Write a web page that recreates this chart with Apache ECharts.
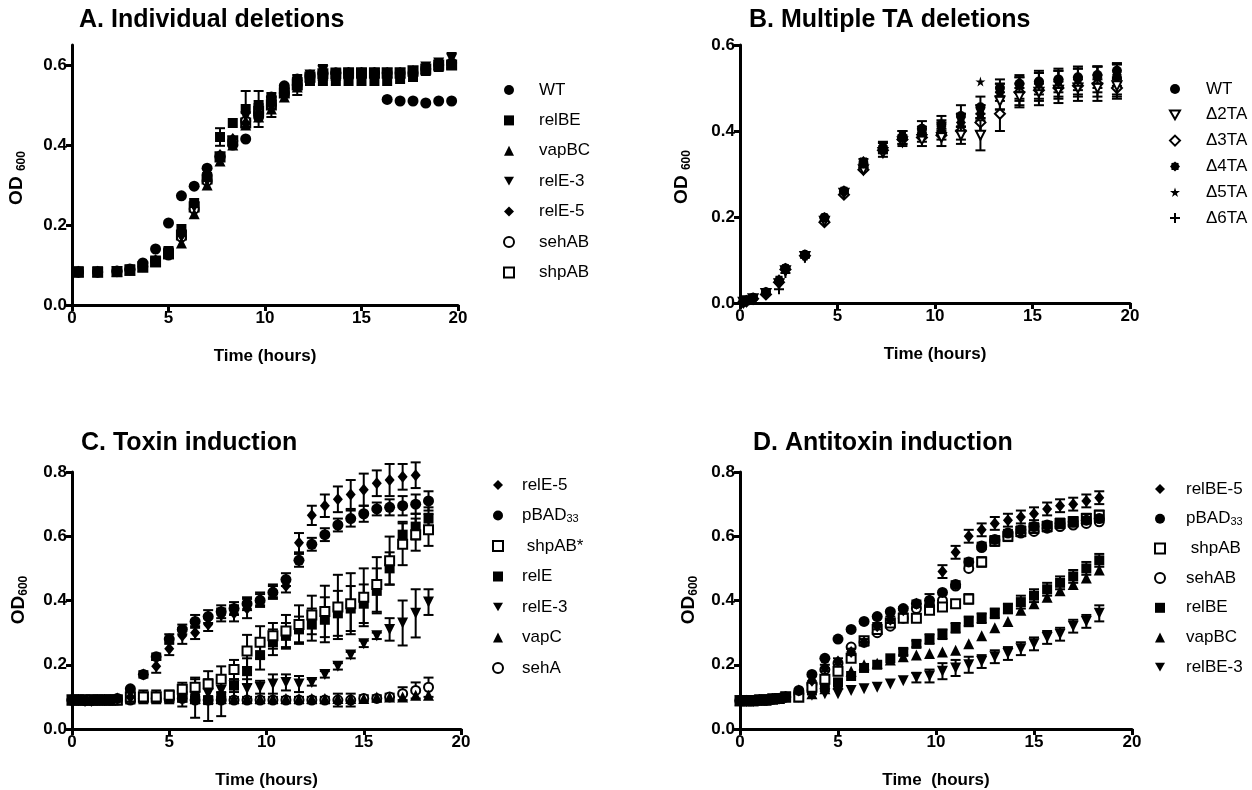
<!DOCTYPE html>
<html>
<head>
<meta charset="utf-8">
<script src="https://cdn.jsdelivr.net/npm/echarts@6.0.0/dist/echarts.min.js"></script>
<style>
  html, body { margin: 0; background: #fff; }
  #main { width: 1252px; height: 790px; }
</style>
</head>
<body>
<div id="main"></div>
<script>
(function(){
  'use strict';

  // ---- data -------------------------------------------------------
  // A. Individual deletions
  var tA = [0.33,1.33,2.33,3.0,3.67,4.33,5.0,5.67,6.33,7.0,7.67,8.33,9.0,9.67,10.33,11.0,11.67,12.33,13.0,13.67,14.33,15.0,15.67,16.33,17.0,17.67,18.33,19.0,19.67];
  var wtA    = [0.083,0.083,0.085,0.09,0.105,0.14,0.205,0.273,0.297,0.342,0.372,0.40,0.415,0.47,0.52,0.548,0.565,0.575,0.578,0.58,0.58,0.58,0.58,0.514,0.51,0.51,0.505,0.51,0.51];
  var relBEA = [0.083,0.083,0.084,0.087,0.095,0.11,0.135,0.19,0.255,0.32,0.42,0.455,0.49,0.50,0.51,0.535,0.55,0.56,0.56,0.56,0.56,0.56,0.56,0.56,0.565,0.57,0.585,0.595,0.60];
  var vapBCA = [0.083,0.083,0.084,0.087,0.095,0.108,0.128,0.155,0.228,0.30,0.36,0.40,0.45,0.47,0.49,0.52,0.545,0.57,0.575,0.575,0.578,0.58,0.58,0.58,0.58,0.585,0.59,0.60,0.605];
  var relE3A = [0.083,0.083,0.084,0.088,0.096,0.11,0.13,0.17,0.245,0.31,0.37,0.41,0.47,0.49,0.50,0.53,0.555,0.575,0.585,0.58,0.58,0.58,0.58,0.58,0.58,0.585,0.595,0.605,0.615];
  var relE5A = [0.083,0.083,0.084,0.088,0.097,0.112,0.132,0.175,0.25,0.315,0.375,0.415,0.455,0.48,0.50,0.525,0.55,0.57,0.578,0.578,0.58,0.58,0.58,0.58,0.58,0.585,0.59,0.60,0.605];
  var sehABA = [0.082,0.082,0.084,0.088,0.096,0.11,0.125,0.17,0.24,0.31,0.37,0.41,0.46,0.48,0.50,0.53,0.55,0.57,0.58,0.58,0.58,0.58,0.58,0.58,0.58,0.58,0.59,0.60,0.605];
  var shpABA = [0.082,0.082,0.083,0.087,0.095,0.108,0.128,0.175,0.245,0.315,0.37,0.41,0.455,0.485,0.50,0.53,0.55,0.57,0.578,0.578,0.58,0.58,0.58,0.58,0.58,0.585,0.59,0.60,0.60];
  var errRelBEA = [0,0,0,0,0,0,0,0,0,0,0.022,0,0.045,0,0,0,0.025,0,0,0,0,0,0,0,0,0,0,0,0];
  var errRelE3A = [0,0,0,0,0,0,0,0,0,0,0,0,0,0.045,0.03,0,0,0,0.015,0,0,0,0,0,0,0,0,0,0.015];

  // B. Multiple TA deletions
  var tB = [0.17,0.33,0.67,1.33,2.0,2.33,3.33,4.33,5.33,6.33,7.33,8.33,9.33,10.33,11.33,12.33,13.33,14.33,15.33,16.33,17.33,18.33,19.33];
  var wtB = [0.003,0.006,0.012,0.025,0.05,0.08,0.112,0.198,0.26,0.325,0.36,0.385,0.405,0.415,0.435,0.455,0.50,0.51,0.515,0.52,0.525,0.53,0.54];
  var d2B = [0.002,0.005,0.01,0.022,0.045,0.075,0.108,0.19,0.255,0.31,0.35,0.375,0.38,0.385,0.39,0.39,0.47,0.48,0.49,0.495,0.50,0.50,0.505];
  var d3B = [0.002,0.004,0.01,0.02,0.048,0.078,0.11,0.188,0.252,0.31,0.355,0.38,0.385,0.39,0.40,0.42,0.44,0.49,0.495,0.50,0.505,0.51,0.50];
  var d4B = [0.003,0.006,0.012,0.026,0.055,0.082,0.112,0.2,0.262,0.33,0.365,0.39,0.40,0.41,0.42,0.44,0.49,0.50,0.51,0.515,0.52,0.525,0.53];
  var d5B = [0.003,0.005,0.011,0.024,0.05,0.08,0.11,0.195,0.26,0.32,0.36,0.385,0.395,0.405,0.43,0.515,0.50,0.51,0.51,0.515,0.52,0.52,0.525];
  var d6B = [0.001,0.004,0.008,0.02,0.032,0.07,0.105,0.19,0.255,0.315,0.35,0.38,0.39,0.40,0.41,0.43,0.48,0.49,0.50,0.505,0.51,0.51,0.515];
  var errWtB = [0,0,0,0,0,0,0,0,0,0.01,0.012,0.015,0.018,0.02,0.025,0.025,0.02,0.02,0.02,0.02,0.02,0.02,0.018];
  var errD2B = [0,0,0,0,0,0,0,0,0,0,0,0.01,0.015,0.02,0.02,0.035,0.02,0.02,0.02,0.02,0.02,0.02,0.02];
  var errD3B = [0,0,0,0,0,0,0,0,0,0,0,0,0,0,0,0.02,0.04,0.02,0.02,0.02,0.02,0.02,0.02];
  var errD4B = [0,0,0,0,0,0,0,0,0,0,0.01,0.01,0.01,0.015,0.02,0.02,0.02,0.025,0.025,0.025,0.025,0.025,0.025];
  var errD6B = [0,0,0,0,0,0,0,0,0,0,0.01,0.01,0.015,0.02,0.03,0.03,0.03,0.035,0.04,0.04,0.04,0.04,0.04];

  // C. Toxin induction / D. Antitoxin induction (same sampling)
  var tCD = [0,0.33,0.67,1.0,1.33,1.67,2.0,2.33,3.0,3.67,4.33,5.0,5.67,6.33,7.0,7.67,8.33,9.0,9.67,10.33,11.0,11.67,12.33,13.0,13.67,14.33,15.0,15.67,16.33,17.0,17.67,18.33];

  var relE5C  = [0.09,0.09,0.088,0.088,0.09,0.09,0.09,0.095, 0.10,0.17,0.195,0.25,0.29,0.30,0.325,0.355,0.36,0.375,0.405,0.43,0.445,0.58,0.665,0.695,0.715,0.73,0.745,0.765,0.775,0.785,0.79,null];
  var pBAD33C = [0.09,0.09,0.088,0.088,0.09,0.09,0.09,0.095, 0.125,0.17,0.225,0.28,0.31,0.335,0.35,0.365,0.375,0.39,0.40,0.425,0.465,0.525,0.575,0.605,0.635,0.655,0.67,0.685,0.69,0.695,0.70,0.71];
  var shpABC  = [0.09,0.09,0.09,0.09,0.09,0.09,0.09,0.09, 0.10,0.10,0.10,0.105,0.124,0.13,0.14,0.155,0.185,0.243,0.27,0.29,0.305,0.325,0.355,0.366,0.38,0.39,0.41,0.45,0.524,0.575,0.605,0.62];
  var relEC   = [0.09,0.09,0.09,0.09,0.09,0.09,0.09,0.09, 0.10,0.10,0.10,0.10,0.10,0.095,0.09,0.10,0.135,0.18,0.23,0.27,0.29,0.31,0.325,0.34,0.36,0.375,0.39,0.43,0.50,0.605,0.63,0.655];
  var relE3C  = [0.09,0.09,0.09,0.09,0.09,0.09,0.09,0.09, 0.10,0.10,0.10,0.10,0.10,0.10,0.11,0.12,0.135,0.125,0.13,0.14,0.145,0.14,0.145,0.17,0.195,0.23,0.265,0.29,0.31,0.33,0.36,0.395];
  var vapCC   = [0.09,0.09,0.09,0.09,0.09,0.09,0.09,0.09, 0.10,0.10,0.10,0.10,0.10,0.095,0.095,0.095,0.095,0.095,0.095,0.095,0.095,0.095,0.095,0.095,0.095,0.095,0.095,0.10,0.10,0.10,0.105,0.105];
  var sehAC   = [0.09,0.09,0.09,0.09,0.09,0.09,0.09,0.09, 0.09,0.095,0.095,0.095,0.095,0.09,0.09,0.09,0.09,0.09,0.09,0.09,0.09,0.09,0.09,0.09,0.09,0.09,0.095,0.095,0.10,0.11,0.12,0.13];
  var errRelE5C  = [0,0,0,0,0,0,0,0, 0,0.01,0.02,0.02,0.025,0.02,0.02,0.02,0.025,0.03,0.02,0.02,0.02,0.03,0.03,0.035,0.04,0.045,0.05,0.04,0.05,0.04,0.04,0];
  var errPBAD33C = [0,0,0,0,0,0,0,0, 0,0,0.01,0.015,0.015,0.02,0.02,0.02,0.02,0.02,0.02,0.02,0.02,0.02,0.02,0.02,0.02,0.025,0.025,0.02,0.025,0.03,0.03,0.03];
  var errShpABC  = [0,0,0,0,0,0,0,0, 0,0,0,0.01,0.02,0.03,0.04,0.04,0.03,0.05,0.05,0.04,0.05,0.06,0.06,0.08,0.1,0.095,0.09,0.085,0.075,0.065,0.05,0.05];
  var errRelEC   = [0,0,0,0,0,0,0,0, 0.02,0.02,0.02,0.02,0.03,0.06,0.065,0.06,0.04,0.04,0.045,0.04,0.04,0.04,0.05,0.07,0.07,0.07,0.06,0.07,0.05,0.04,0.04,0.035];
  var errRelE3C  = [0,0,0,0,0,0,0,0, 0,0,0,0,0,0,0,0,0.02,0.03,0.02,0.03,0.025,0.025,0.01,0.01,0.01,0.01,0.01,0.01,0.035,0.07,0.075,0.04];
  var errSehAC   = [0,0,0,0,0,0,0,0, 0.01,0.01,0.01,0.01,0.01,0.01,0.01,0.01,0.01,0.01,0.01,0.01,0.01,0.01,0.01,0.01,0.02,0.02,0.01,0.01,0.01,0.02,0.025,0.03];

  var relBE5D  = [0.088,0.088,0.088,0.09,0.09,0.093,0.095,0.10, 0.12,0.15,0.19,0.21,0.24,0.27,0.32,0.34,0.37,0.39,0.40,0.49,0.55,0.60,0.62,0.64,0.65,0.66,0.67,0.685,0.695,0.70,0.71,0.72];
  var pBAD33D  = [0.088,0.088,0.088,0.09,0.09,0.093,0.095,0.10, 0.12,0.17,0.22,0.28,0.31,0.335,0.35,0.365,0.375,0.39,0.40,0.425,0.45,0.52,0.57,0.59,0.61,0.62,0.63,0.635,0.64,0.645,0.65,0.655];
  var shpABD   = [0.088,0.088,0.088,0.09,0.09,0.093,0.095,0.10, 0.10,0.13,0.155,0.18,0.22,0.275,0.31,0.33,0.345,0.345,0.37,0.38,0.39,0.405,0.52,0.585,0.60,0.615,0.625,0.63,0.64,0.645,0.655,0.665];
  var sehABD   = [0.088,0.088,0.088,0.09,0.09,0.093,0.095,0.10, 0.11,0.14,0.185,0.205,0.255,0.27,0.30,0.32,0.345,0.375,0.385,0.40,0.445,0.50,0.565,0.585,0.60,0.61,0.615,0.625,0.63,0.635,0.64,0.645];
  var relBED   = [0.088,0.088,0.088,0.09,0.09,0.093,0.095,0.10, 0.10,0.12,0.13,0.145,0.165,0.19,0.20,0.22,0.24,0.265,0.28,0.295,0.315,0.335,0.345,0.36,0.375,0.395,0.415,0.435,0.455,0.475,0.50,0.525];
  var vapBCD   = [0.088,0.088,0.088,0.09,0.09,0.093,0.095,0.10, 0.10,0.11,0.125,0.14,0.18,0.20,0.205,0.215,0.225,0.23,0.235,0.24,0.245,0.265,0.29,0.315,0.335,0.37,0.39,0.41,0.43,0.45,0.47,0.495];
  var relBE3D  = [0.088,0.088,0.088,0.09,0.09,0.093,0.095,0.10, 0.10,0.105,0.11,0.11,0.12,0.125,0.13,0.14,0.15,0.16,0.165,0.18,0.19,0.20,0.21,0.225,0.235,0.25,0.265,0.285,0.295,0.32,0.335,0.36];
  var errRelBE5D = [0,0,0,0,0,0,0,0, 0,0,0.01,0.01,0.01,0.01,0.01,0.01,0.01,0.01,0.02,0.02,0.02,0.02,0.02,0.02,0.02,0.02,0.02,0.02,0.02,0.02,0.02,0.02];
  var errPBAD33D = [0,0,0,0,0,0,0,0, 0,0,0,0,0,0,0,0,0,0,0,0,0.01,0.01,0.01,0.01,0.01,0.01,0.01,0.01,0.01,0.01,0.01,0.01];
  var errShpABD  = [0,0,0,0,0,0,0,0, 0,0,0,0,0,0,0,0,0,0,0,0,0.01,0.015,0.015,0.015,0.015,0.015,0.015,0.015,0.015,0.015,0.015,0.015];
  var errRelBED  = [0,0,0,0,0,0,0,0, 0,0,0,0,0,0,0,0,0.01,0.01,0.015,0.015,0.015,0.015,0.015,0.015,0.015,0.02,0.02,0.02,0.02,0.02,0.02,0.02];
  var errRelBE3D = [0,0,0,0,0,0,0,0, 0,0,0,0,0,0,0,0,0,0.015,0.02,0.025,0.025,0.025,0.02,0.02,0.02,0.02,0.02,0.02,0.02,0.02,0.02,0.025];

  var yTicksA = [0, 0.2, 0.4, 0.6];
  var yTicksB = [0, 0.2, 0.4, 0.6];
  var yTicksCD = [0, 0.2, 0.4, 0.6, 0.8];

  // ---- styling helpers -------------------------------------------
  var FONT = '"Liberation Sans", Arial, sans-serif';
  var DOWN = 'path://M0,0 L100,0 L50,87 Z';
  var STAR = 'path://M50,0 L61,35 L98,35 L68,57 L79,91 L50,70 L21,91 L32,57 L2,35 L39,35 Z';
  var PLUS = 'path://M40,0 H60 V40 H100 V60 H60 V100 H40 V60 H0 V40 H40 Z';
  var BLOB = 'path://M100,50 L87,65 L85,85 L65,87 L50,100 L35,87 L15,85 L13,65 L0,50 L13,35 L15,15 L35,13 L50,0 L65,13 L85,15 L87,35 Z';

  var panels = [
    { key: 'A', times: tA, items: [
      { n: 'WT', v: wtA, s: 'circle', sz: 11 },
      { n: 'relBE', v: relBEA, e: errRelBEA, s: 'rect', sz: 10 },
      { n: 'vapBC', v: vapBCA, s: 'triangle', sz: 11 },
      { n: 'relE-3', v: relE3A, e: errRelE3A, s: DOWN, sz: 11 },
      { n: 'relE-5', v: relE5A, s: 'diamond', sz: [10, 12] },
      { n: 'sehAB', v: sehABA, s: 'circle', open: true, sz: 9 },
      { n: 'shpAB', v: shpABA, s: 'rect', open: true, sz: 9 }
    ]},
    { key: 'B', times: tB, items: [
      { n: 'WT', v: wtB, e: errWtB, s: 'circle', sz: 10 },
      { n: '\u03942TA', v: d2B, e: errD2B, s: DOWN, open: true, sz: 9 },
      { n: '\u03943TA', v: d3B, e: errD3B, s: 'diamond', open: true, sz: 10 },
      { n: '\u03944TA', v: d4B, e: errD4B, s: BLOB, sz: 10 },
      { n: '\u03945TA', v: d5B, s: STAR, sz: 10 },
      { n: '\u03946TA', v: d6B, e: errD6B, s: PLUS, sz: 10 }
    ]},
    { key: 'C', times: tCD, items: [
      { n: 'relE-5', v: relE5C, e: errRelE5C, s: 'diamond', sz: [10, 12] },
      { n: 'pBAD33', v: pBAD33C, e: errPBAD33C, s: 'circle', sz: 11 },
      { n: ' shpAB*', v: shpABC, e: errShpABC, s: 'rect', open: true, sz: 9 },
      { n: 'relE', v: relEC, e: errRelEC, s: 'rect', sz: 10 },
      { n: 'relE-3', v: relE3C, e: errRelE3C, s: DOWN, sz: 11 },
      { n: 'vapC', v: vapCC, s: 'triangle', sz: 11 },
      { n: 'sehA', v: sehAC, e: errSehAC, s: 'circle', open: true, sz: 9 }
    ]},
    { key: 'D', times: tCD, items: [
      { n: 'relBE-5', v: relBE5D, e: errRelBE5D, s: 'diamond', sz: [10, 12] },
      { n: 'pBAD33', v: pBAD33D, e: errPBAD33D, s: 'circle', sz: 11 },
      { n: ' shpAB', v: shpABD, e: errShpABD, s: 'rect', open: true, sz: 9 },
      { n: 'sehAB', v: sehABD, s: 'circle', open: true, sz: 9 },
      { n: 'relBE', v: relBED, e: errRelBED, s: 'rect', sz: 10 },
      { n: 'vapBC', v: vapBCD, s: 'triangle', sz: 11 },
      { n: 'relBE-3', v: relBE3D, e: errRelBE3D, s: DOWN, sz: 11 }
    ]}
  ];

  var grids = [
    { left: 72,  top: 45,  width: 386, height: 260 },
    { left: 740, top: 45,  width: 390, height: 258 },
    { left: 72,  top: 472, width: 389, height: 258 },
    { left: 740, top: 472, width: 392, height: 258 }
  ];
  var yMax = [0.65, 0.6, 0.8, 0.8];
  var yTicks = [yTicksA, yTicksB, yTicksCD, yTicksCD];
  var xNames = ['Time (hours)', 'Time (hours)', 'Time (hours)', 'Time  (hours)'];

  var legendPos = [
    { left: 503,  top: 81,  gap: 12.4, pad: 20 },
    { left: 1169, top: 80,  gap: 7.8,  pad: 21 },
    { left: 492,  top: 476, gap: 12.5, pad: 14 },
    { left: 1154, top: 480, gap: 11.7, pad: 16 }
  ];

  var axisLine = { lineStyle: { color: '#000', width: 3 } };
  var axisTick = { length: 6, lineStyle: { color: '#000', width: 3 } };
  var labelStyle = { color: '#000', fontWeight: 'bold', fontSize: 17, fontFamily: FONT };

  function renderErr(params, api) {
    var x = api.value(0), y = api.value(1), e = api.value(2);
    if (!e) return;
    var hi = api.coord([x, y + e]);
    var lo = api.coord([x, y - e]);
    var w = 5;
    var st = { stroke: '#000', lineWidth: 2 };
    return { type: 'group', children: [
      { type: 'line', shape: { x1: hi[0], y1: hi[1], x2: lo[0], y2: lo[1] }, style: st },
      { type: 'line', shape: { x1: hi[0] - w, y1: hi[1], x2: hi[0] + w, y2: hi[1] }, style: st },
      { type: 'line', shape: { x1: lo[0] - w, y1: lo[1], x2: lo[0] + w, y2: lo[1] }, style: st }
    ]};
  }

  var xAxes = [], yAxes = [], series = [], legends = [];

  panels.forEach(function(p, gi) {
    xAxes.push({
      gridIndex: gi, type: 'value', min: 0, max: 20, interval: 5,
      axisLine: axisLine, axisTick: axisTick, splitLine: { show: false },
      axisLabel: Object.assign({ margin: 5 }, labelStyle),
      name: xNames[gi], nameLocation: 'middle', nameGap: 43,
      nameTextStyle: { color: '#000', fontWeight: 'bold', fontSize: 17, fontFamily: FONT }
    });
    yAxes.push({
      gridIndex: gi, type: 'value', min: 0, max: yMax[gi], interval: 0.2,
      axisLine: axisLine, splitLine: { show: false },
      axisTick: Object.assign({ customValues: yTicks[gi] }, axisTick),
      axisLabel: Object.assign({ margin: 5, customValues: yTicks[gi],
        formatter: function(v) { return v.toFixed(1); } }, labelStyle)
    });

    var names = [];
    var count = p.items.length;
    p.items.forEach(function(it, idx) {
      var sname = p.key + '|' + it.n;
      names.push(sname);
      // first data set in the legend sits in front, as in the original plots
      var zTop = 2 * (count - idx) + 2;
      var style = it.open
        ? { color: '#fff', borderColor: '#000', borderWidth: 2, opacity: 1 }
        : { color: '#000', opacity: 1 };
      if (it.e) {
        var ed = [];
        p.times.forEach(function(t, i) {
          if (it.v[i] != null && it.e[i] > 0) ed.push([t, it.v[i], it.e[i]]);
        });
        series.push({
          type: 'custom', name: sname + ' sd', xAxisIndex: gi, yAxisIndex: gi,
          renderItem: renderErr, encode: { x: 0, y: 1 }, data: ed, z: zTop - 1, silent: true
        });
      }
      var sd = [];
      p.times.forEach(function(t, i) {
        if (it.v[i] != null) sd.push([t, it.v[i]]);
      });
      series.push({
        type: 'scatter', name: sname, xAxisIndex: gi, yAxisIndex: gi,
        symbol: it.s, symbolSize: it.sz,
        itemStyle: style, data: sd, z: zTop, silent: true
      });
    });

    var lp = legendPos[gi];
    legends.push({
      orient: 'vertical', left: lp.left, top: lp.top, padding: 0,
      itemWidth: 10, itemHeight: 10, itemGap: lp.gap,
      selectedMode: false, data: names,
      formatter: function(name) {
        var s = name.split('|')[1];
        return s === 'pBAD33' ? '{n|pBAD}{s|33}' : s;
      },
      textStyle: {
        color: '#000', fontSize: 17, fontFamily: FONT, lineHeight: 18,
        padding: [0, 0, 0, lp.pad],
        rich: {
          n: { fontSize: 17, lineHeight: 18, fontFamily: FONT, color: '#000' },
          s: { fontSize: 11, lineHeight: 11, padding: [7, 0, 0, 0], fontFamily: FONT, color: '#000' }
        }
      }
    });
  });

  function title(x, y, txt) {
    return { type: 'text', x: x, y: y, style: { text: txt, fill: '#000',
      font: 'bold 25px ' + FONT, align: 'left', verticalAlign: 'middle' } };
  }
  function odLabel(x, y, txt) {
    return { type: 'text', x: x, y: y, rotation: Math.PI / 2, style: {
      text: txt, align: 'center', verticalAlign: 'middle',
      rich: {
        a: { fontSize: 19, fontWeight: 'bold', fontFamily: FONT, fill: '#000', lineHeight: 20 },
        b: { fontSize: 12, fontWeight: 'bold', fontFamily: FONT, fill: '#000', lineHeight: 12, padding: [9, 0, 0, 0] }
      }
    }};
  }

  var myChart = echarts.init(document.getElementById('main'), null, { renderer: 'canvas' });
  myChart.setOption({
    animation: false,
    backgroundColor: '#fff',
    grid: grids,
    xAxis: xAxes,
    yAxis: yAxes,
    legend: legends,
    series: series,
    graphic: [
      title(79, 20, 'A. Individual deletions'),
      title(749, 20, 'B. Multiple TA deletions'),
      title(81, 443, 'C. Toxin induction'),
      title(753, 443, 'D. Antitoxin induction'),
      odLabel(17, 178, '{a|OD }{b|600}'),
      odLabel(682, 177, '{a|OD }{b|600}'),
      odLabel(19, 600, '{a|OD}{b|600}'),
      odLabel(689, 600, '{a|OD}{b|600}')
    ]
  });
}());
</script>
</body>
</html>
